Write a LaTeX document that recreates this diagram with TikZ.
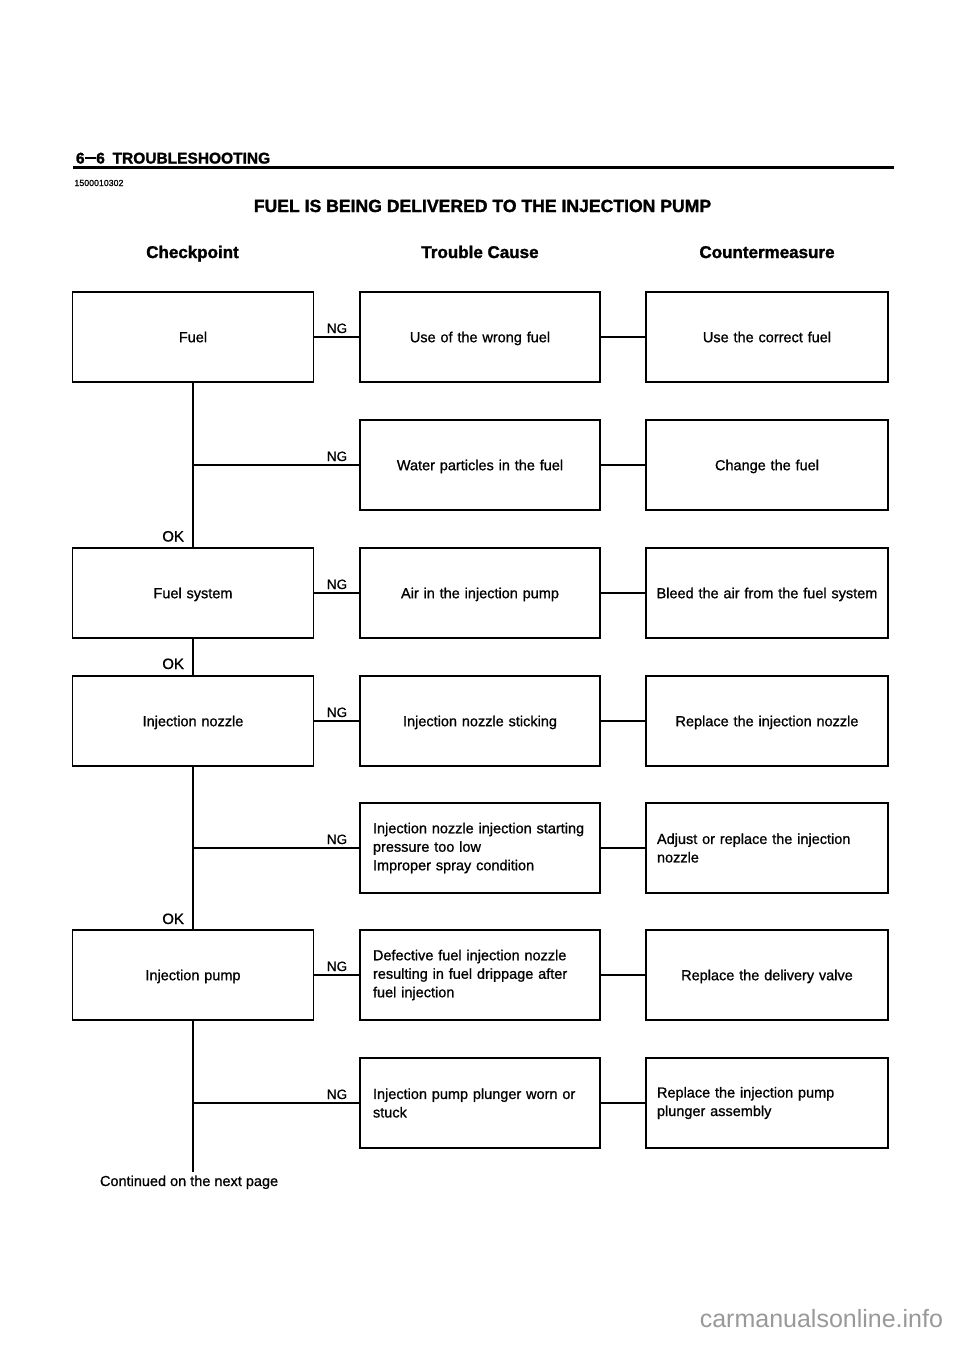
\documentclass[tikz,border=0pt]{standalone}
\usepackage{fontspec}
\setmainfont{Liberation Sans}[FakeBold=0.9, BoldFeatures={FakeBold=1.6}]
\newfontfamily\wmfont{Liberation Sans}
\usetikzlibrary{calc}
\newcommand{\bxfont}{\fontsize{14.5}{18.5}\selectfont}
\tikzset{
  every node/.style={inner sep=0pt, outer sep=0pt},
  box/.style={draw, line width=1.2pt, minimum height=90pt, font=\bxfont, align=center},
  cpbox/.style={box, minimum width=241pt, text width=215pt},
  tcbox/.style={box, minimum width=240pt, text width=214pt},
  cmbox/.style={box, minimum width=242pt, text width=220pt},
  one/.style={text height=10.4pt, text depth=0pt},
  lft/.style={align=left},
  conn/.style={line width=1.1pt},
  nglab/.style={font=\fontsize{13.5}{16}\selectfont, anchor=base},
  oklab/.style={font=\fontsize{15}{18}\selectfont, anchor=base east},
  colhead/.style={font=\fontsize{17}{20}\selectfont\bfseries, anchor=base},
}
\begin{document}
\begin{tikzpicture}[x=1pt, y=-1pt]
\useasboundingbox (0,0) rectangle (960,1358);
\fill[white] (0,0) rectangle (960,1358);

% header
\node[anchor=base west, font=\fontsize{15.5}{18}\selectfont\bfseries] (hdr) at (76,163.5) {6\rule[0.3em]{0.75em}{0.12em}6\hspace{0.5em}TROUBLESHOOTING};
\coordinate (rulea) at (73,167.7);
\coordinate (ruleb) at (894,167.7);
\draw[line width=2.6pt] (rulea) -- (ruleb);
\node[anchor=base west, font=\fontsize{8.8}{10}\selectfont] (code) at (74.5,186) {1500010302};
\node[anchor=base, font=\fontsize{17.6}{20}\selectfont\bfseries] (title) at (482.5,212) {FUEL IS BEING DELIVERED TO THE INJECTION PUMP};

\node[colhead] (hcp) at (192.5,258) {Checkpoint};
\node[colhead] (htc) at (480,258) {Trouble Cause};
\node[colhead] (hcm) at (767,258) {Countermeasure};

% checkpoint boxes
\node[cpbox, one] (fuel)   at (193,337) {Fuel};
\node[cpbox, one] (fsys)   at (193,593) {Fuel system};
\node[cpbox, one] (nozzle) at (193,721) {Injection nozzle};
\node[cpbox, one] (pump)   at (193,975) {Injection pump};

% trouble cause boxes
\node[tcbox, one] (t1) at (480,337) {Use of the wrong fuel};
\node[tcbox, one] (t2) at (480,465) {Water particles in the fuel};
\node[tcbox, one] (t3) at (480,593) {Air in the injection pump};
\node[tcbox, one] (t4) at (480,721) {Injection nozzle sticking};
\node[tcbox, lft] (t5) at (480,848) {Injection nozzle injection starting\\pressure too low\\Improper spray condition};
\node[tcbox, lft] (t6) at (480,975) {Defective fuel injection nozzle\\resulting in fuel drippage after\\fuel injection};
\node[tcbox, lft] (t7) at (480,1103) {Injection pump plunger worn or\\stuck};

% countermeasure boxes
\node[cmbox, one] (c1) at (767,337) {Use the correct fuel};
\node[cmbox, one] (c2) at (767,465) {Change the fuel};
\node[cmbox, one, text width=238pt] (c3) at (767,593) {Bleed the air from the fuel system};
\node[cmbox, one] (c4) at (767,721) {Replace the injection nozzle};
\node[cmbox, lft] (c5) at (767,848) {Adjust or replace the injection\\nozzle};
\node[cmbox, one] (c6) at (767,975) {Replace the delivery valve};
\node[cmbox, lft] (c7) at (767,1103) {Replace the injection pump\\plunger assembly};

% branch points on the checkpoint line
\coordinate (b2) at (193,465);
\coordinate (b5) at (193,848);
\coordinate (b7) at (193,1103);
\coordinate (cend) at (193,1172);

% vertical OK line
\draw[conn] (fuel.south) -- (fsys.north);
\draw[conn] (fsys.south) -- (nozzle.north);
\draw[conn] (nozzle.south) -- (pump.north);
\draw[conn] (pump.south) -- (cend);

% NG connectors
\draw[conn] (fuel.east) -- (t1.west);
\draw[conn] (b2) -- (t2.west);
\draw[conn] (fsys.east) -- (t3.west);
\draw[conn] (nozzle.east) -- (t4.west);
\draw[conn] (b5) -- (t5.west);
\draw[conn] (pump.east) -- (t6.west);
\draw[conn] (b7) -- (t7.west);

% cause to countermeasure
\draw[conn] (t1.east) -- (c1.west);
\draw[conn] (t2.east) -- (c2.west);
\draw[conn] (t3.east) -- (c3.west);
\draw[conn] (t4.east) -- (c4.west);
\draw[conn] (t5.east) -- (c5.west);
\draw[conn] (t6.east) -- (c6.west);
\draw[conn] (t7.east) -- (c7.west);

% NG labels
\node[nglab] (ng1) at (337,333) {NG};
\node[nglab] (ng2) at (337,461) {NG};
\node[nglab] (ng3) at (337,589) {NG};
\node[nglab] (ng4) at (337,717) {NG};
\node[nglab] (ng5) at (337,844) {NG};
\node[nglab] (ng6) at (337,971) {NG};
\node[nglab] (ng7) at (337,1099) {NG};

% OK labels
\node[oklab] (ok1) at (184,541.5) {OK};
\node[oklab] (ok2) at (184,669) {OK};
\node[oklab] (ok3) at (184,924) {OK};

\node[anchor=base west, font=\bxfont] (cont) at (100,1186) {Continued on the next page};

\node[anchor=base east, font=\wmfont\fontsize{25}{30}\selectfont, text=black!40] (wm) at (943,1327) {carmanualsonline.info};
\end{tikzpicture}
\end{document}
